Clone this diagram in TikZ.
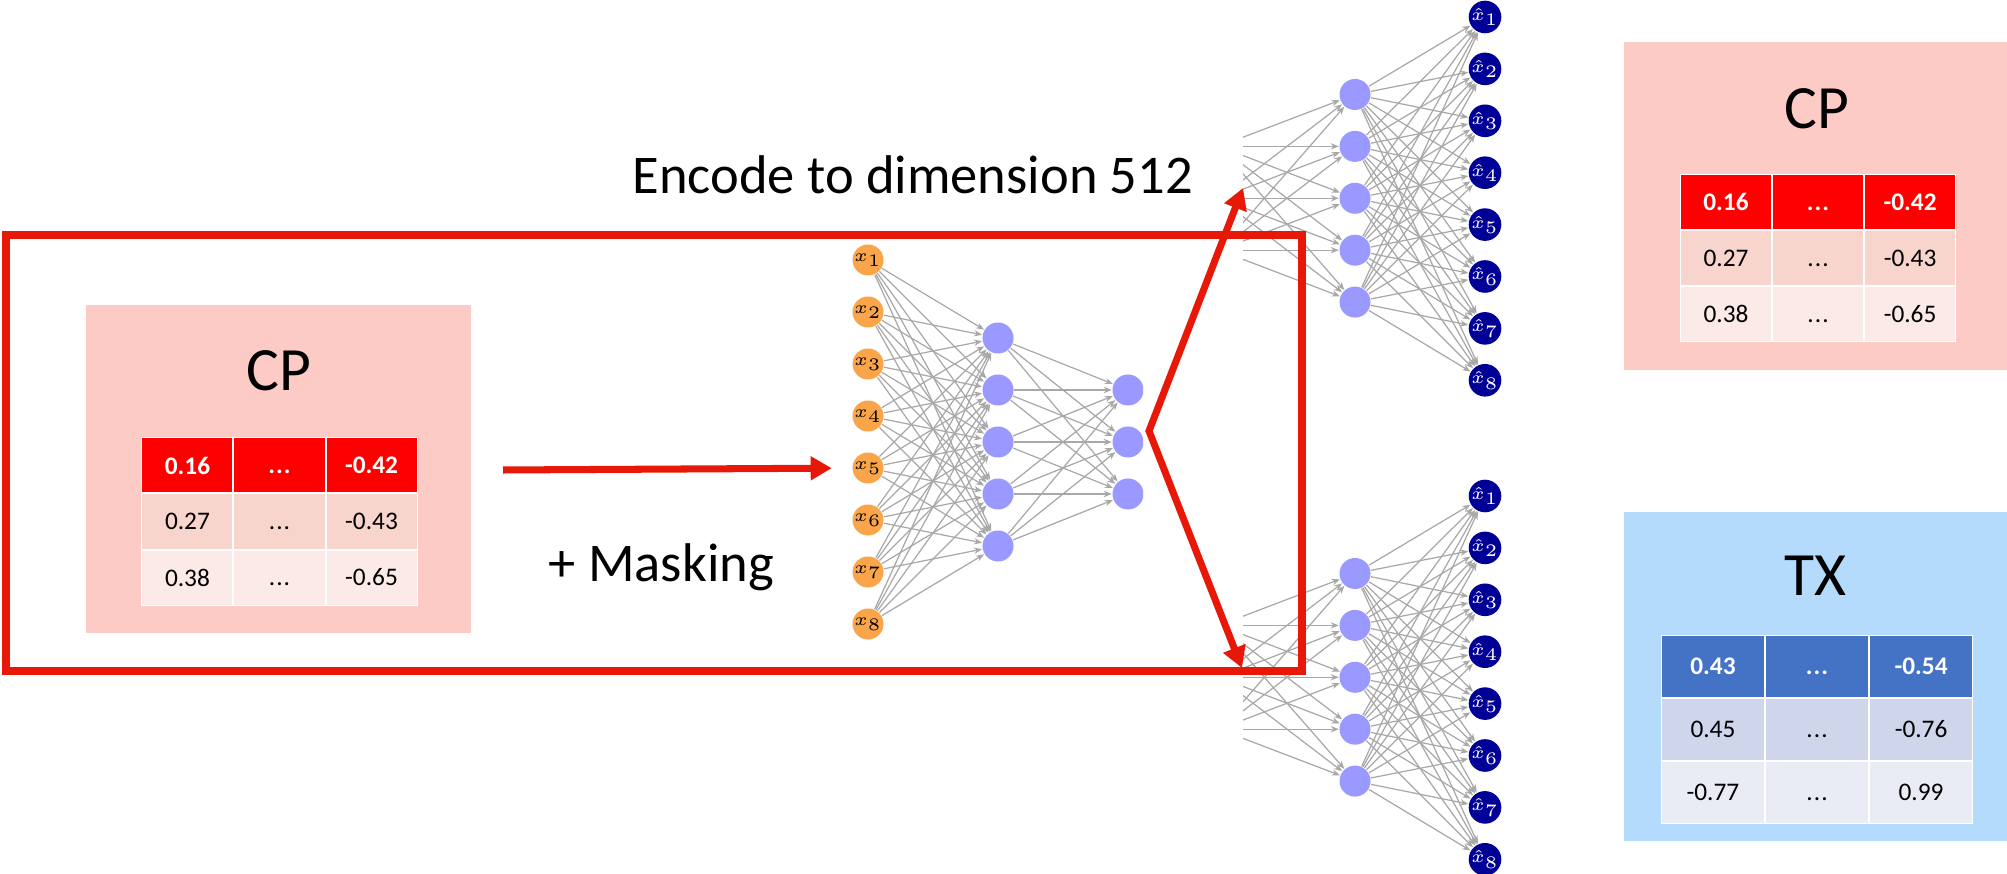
\documentclass[tikz,border=0pt]{standalone}
\usepackage{fontspec}
\setmainfont{Carlito}
\usetikzlibrary{arrows.meta,matrix}
\definecolor{framered}{RGB}{232,24,8}
\definecolor{cpbg}{HTML}{FCCBC6}
\definecolor{txbg}{HTML}{B4DAFC}
\definecolor{cphead}{HTML}{FF0000}
\definecolor{cprow2}{HTML}{F7D5CC}
\definecolor{cprow3}{HTML}{FBEAE7}
\definecolor{txhead}{HTML}{4472C4}
\definecolor{txrow2}{HTML}{CFD5EA}
\definecolor{txrow3}{HTML}{E9EBF5}
\definecolor{nnorange}{HTML}{FAA54A}
\definecolor{nnhid}{HTML}{9999FF}
\definecolor{nnout}{HTML}{000096}
\definecolor{edgegray}{HTML}{A8A8A8}
\newcommand{\dotsx}{\vphantom{0}.\kern0.3pt.\kern0.3pt.}
\begin{document}
\begin{tikzpicture}[x=0.01cm,y=-0.01cm,
  framebox/.style={draw=framered, line width=2.3pt},
  redarrow/.style={draw=framered, line width=2pt, line join=miter,
    -{Triangle[length=6pt,width=6.5pt]}},
  inpt/.style={circle, fill=nnorange, minimum size=0.31cm, inner sep=0pt,
    font=\fontsize{5.5}{6}\selectfont},
  hid/.style={circle, fill=nnhid, minimum size=0.31cm, inner sep=0pt},
  outp/.style={circle, fill=nnout, text=white, minimum size=0.31cm, inner sep=0pt,
    font=\fontsize{5.2}{6}\selectfont},
  nnlink/.style={draw=edgegray, line width=0.35pt, -{Stealth[length=2.3pt,width=1.8pt]}},
  bigtitle/.style={font=\fontsize{17.5}{20}\selectfont, anchor=base, inner sep=0pt},
  lbl/.style={font=\fontsize{15.5}{18}\selectfont, anchor=base west, inner sep=0pt},
  cpbox/.style={fill=cpbg, minimum width=3.85cm, minimum height=3.28cm, inner sep=0pt},
  txbox/.style={fill=txbg, minimum width=3.85cm, minimum height=3.29cm, inner sep=0pt},
  cptab/.style={matrix of nodes, fill=white, inner sep=0.01cm,
    column sep=0.02cm, row sep=0.02cm,
    nodes={minimum width=0.9cm, minimum height=0.54cm, inner sep=0pt,
      font=\fontsize{7.2}{8}\selectfont, anchor=center},
    row 1/.style={nodes={fill=cphead, text=white, font=\fontsize{7.2}{8}\selectfont\bfseries}},
    row 2/.style={nodes={fill=cprow2}},
    row 3/.style={nodes={fill=cprow3}}},
  txtab/.style={matrix of nodes, fill=white, inner sep=0.01cm,
    column sep=0.02cm, row sep=0.02cm,
    nodes={minimum width=1.02cm, minimum height=0.61cm, inner sep=0pt,
      font=\fontsize{7.2}{8}\selectfont, anchor=center},
    row 1/.style={nodes={fill=txhead, text=white, font=\fontsize{7.2}{8}\selectfont\bfseries}},
    row 2/.style={nodes={fill=txrow2}},
    row 3/.style={nodes={fill=txrow3}}}
]
\useasboundingbox (0,0) rectangle (2007,874);

% ---------- left CP box ----------
\node[cpbox] (cpL) at (278.5,469) {};
\node[bigtitle] (cpLt) at (278.5,391) {CP};
\matrix (tabL) [cptab] at (279.5,521.5) {
  0.16 & \dotsx & -0.42 \\
  0.27 & \dotsx & -0.43 \\
  0.38 & \dotsx & -0.65 \\
};

% ---------- right CP box ----------
\node[cpbox] (cpR) at (1816.5,206) {};
\node[bigtitle] (cpRt) at (1817,129) {CP};
\matrix (tabR) [cptab] at (1818,258) {
  0.16 & \dotsx & -0.42 \\
  0.27 & \dotsx & -0.43 \\
  0.38 & \dotsx & -0.65 \\
};

% ---------- TX box ----------
\node[txbox] (txR) at (1816.5,676.5) {};
\node[bigtitle] (txRt) at (1815,596) {TX};
\matrix (tabT) [txtab] at (1817,729.5) {
  0.43 & \dotsx & -0.54 \\
  0.45 & \dotsx & -0.76 \\
  -0.77 & \dotsx & 0.99 \\
};

% ---------- encoder ----------
\foreach \i in {1,...,8}
  \node[inpt] (x\i) at (868,{260+52*(\i-1)}) {$x_{\i}$};
\foreach \j in {1,...,5}
  \node[hid] (h\j) at (998,{338+52*(\j-1)}) {};
\begin{scope}
  \clip (1090,300) rectangle (1143,560);
  \foreach \k in {1,...,3}
    \node[hid] (g\k) at (1128,{390+52*(\k-1)}) {};
\end{scope}
\foreach \i in {1,...,8}
  \foreach \j in {1,...,5}
    \draw[nnlink] (x\i) -- (h\j);
\foreach \j in {1,...,5}
  \foreach \k in {1,...,3}
    \draw[nnlink] (h\j) -- (g\k);

% ---------- decoders ----------
\foreach \s/\dy in {t/0,b/479}{
  \foreach \k in {1,...,3}
    \coordinate (\s in\k) at (1219,{146.4+51.9*(\k-1)+\dy});
  \foreach \j in {1,...,5}
    \node[hid] (\s dh\j) at (1355,{94.5+51.9*(\j-1)+\dy}) {};
  \foreach \i in {1,...,8}
    \node[outp] (\s o\i) at (1485,{17+51.9*(\i-1)+\dy}) {$\hat{x}_{\i}$};
  \begin{scope}
    \clip (1243,{100+\dy}) rectangle (1400,{300+\dy});
    \foreach \k in {1,...,3}
      \foreach \j in {1,...,5}
        \draw[nnlink] (\s in\k) -- (\s dh\j);
  \end{scope}
  \foreach \j in {1,...,5}
    \foreach \i in {1,...,8}
      \draw[nnlink] (\s dh\j) -- (\s o\i);
}

% ---------- frame and red arrows ----------
\draw[framebox] (6,235) rectangle (1302,671);
\coordinate (mstart) at (503,470);
\draw[redarrow, shorten >=0.2cm] (mstart) -- (x5);
\coordinate (apex) at (1149,431);
\coordinate (dTopIn) at (1243,188);
\coordinate (dBotIn) at (1242,668);
\draw[redarrow, {Triangle[length=6pt,width=6.5pt]}-{Triangle[length=6pt,width=6.5pt]}]
  (dTopIn) -- (apex) -- (dBotIn);

% ---------- labels ----------
\node[lbl] (enc) at (632,194) {Encode to dimension 512};
\node[lbl] (mask) at (548,582) {+ Masking};
\end{tikzpicture}
\end{document}
